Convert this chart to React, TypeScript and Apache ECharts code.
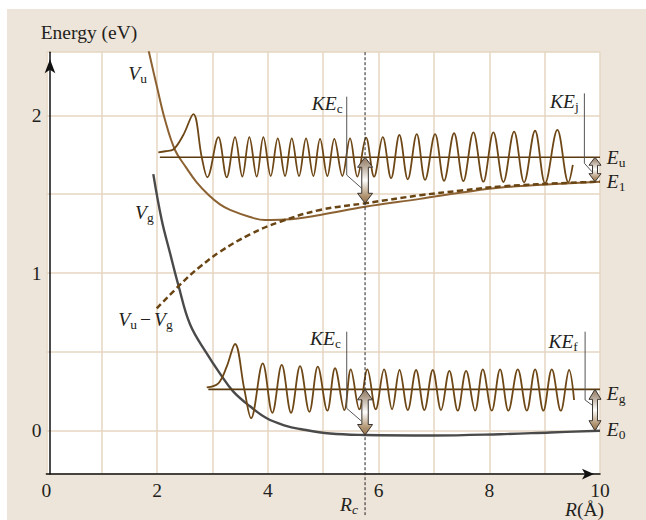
import React, { useEffect, useRef } from 'react';
import * as echarts from 'echarts';

// Axis ranges: internuclear distance R (Å) and energy (eV)
const X_MIN = 0;
const X_MAX = 10;
const Y_MIN = -0.275;
const Y_MAX = 2.4;
const X_LABELS = [0, 2, 4, 6, 8, 10];
const Y_LABELS = [0, 1, 2];

// Crossing distance and energy levels
const R_C = 5.756;
const E_U = 1.734;
const E_1 = 1.579;
const E_G = 0.2625;
const E_0 = 0;
const DIFF_AT_RC = 1.442;
const VG_AT_RC = -0.027;
const R_RIGHT = 9.91;

// Upper potential V_u
const vuCurve = [
  [1.84, 2.42], [1.998, 2.179], [2.143, 1.97], [2.323, 1.78], [2.522, 1.67], [2.715, 1.575],
  [2.93, 1.495], [3.136, 1.435], [3.317, 1.4], [3.678, 1.355], [3.949, 1.336], [4.311, 1.339],
  [4.944, 1.368], [5.757, 1.42], [6.75, 1.47], [7.5, 1.51], [8.255, 1.543], [9.46, 1.569], [10, 1.579],
];

// Ground potential V_g
const vgCurve = [
  [1.931, 1.627], [2.083, 1.336], [2.233, 1.127], [2.383, 0.924], [2.594, 0.675], [2.896, 0.49],
  [3.136, 0.362], [3.377, 0.248], [3.678, 0.155], [3.98, 0.079], [4.311, 0.033], [4.582, 0.011],
  [5.124, -0.018], [5.757, -0.027], [6.99, -0.03], [8.195, -0.022], [9.098, -0.011], [10, 0],
];

// Difference potential V_u - V_g
const diffCurve = [
  [1.993, 0.776], [2.5, 0.955], [2.775, 1.04], [3.136, 1.135], [3.678, 1.245], [4.22, 1.325],
  [4.944, 1.4], [5.757, 1.442], [6.75, 1.493], [7.5, 1.523], [8.255, 1.55], [9.46, 1.572], [10, 1.579],
];

// Vibrational wavefunction on the upper level (extrema)
const upperWave = [
  [2.022, 1.765], [2.15, 1.772], [2.293, 1.783], [2.473, 1.875], [2.654, 2.008], [2.806, 1.734],
  [2.907, 1.607], [3.106, 1.861], [3.257, 1.607], [3.407, 1.861], [3.539, 1.611], [3.666, 1.861],
  [3.799, 1.611], [3.919, 1.861], [4.052, 1.615], [4.179, 1.854], [4.311, 1.615], [4.432, 1.854],
  [4.564, 1.615], [4.69, 1.854], [4.822, 1.615], [4.943, 1.85], [5.075, 1.615], [5.201, 1.85],
  [5.346, 1.615], [5.485, 1.854], [5.617, 1.611], [5.774, 1.858], [5.919, 1.611], [6.076, 1.861],
  [6.226, 1.601], [6.376, 1.875], [6.528, 1.594], [6.69, 1.88], [6.84, 1.59], [7.021, 1.88],
  [7.183, 1.585], [7.364, 1.886], [7.532, 1.583], [7.713, 1.892], [7.893, 1.579], [8.074, 1.892],
  [8.255, 1.577], [8.448, 1.896], [8.629, 1.575], [8.827, 1.902], [9.008, 1.569], [9.23, 1.907],
  [9.429, 1.575], [9.509, 1.685],
];

// Vibrational wavefunction on the lower level (extrema)
const lowerWave = [
  [2.896, 0.275], [3.106, 0.301], [3.257, 0.406], [3.407, 0.55], [3.575, 0.263], [3.697, 0.079],
  [3.908, 0.427], [4.081, 0.114], [4.251, 0.417], [4.419, 0.114], [4.582, 0.41], [4.75, 0.12],
  [4.902, 0.406], [5.075, 0.127], [5.214, 0.396], [5.382, 0.131], [5.498, 0.389], [5.653, 0.136],
  [5.798, 0.389], [5.949, 0.136], [6.099, 0.389], [6.244, 0.136], [6.379, 0.385], [6.528, 0.131],
  [6.678, 0.385], [6.827, 0.131], [6.979, 0.385], [7.129, 0.131], [7.279, 0.38], [7.431, 0.127],
  [7.581, 0.38], [7.744, 0.127], [7.883, 0.389], [8.045, 0.127], [8.195, 0.389], [8.345, 0.127],
  [8.515, 0.389], [8.678, 0.127], [8.828, 0.389], [8.977, 0.127], [9.129, 0.389], [9.292, 0.127],
  [9.442, 0.385], [9.532, 0.195],
];

const upperLevel = [[2.05, E_U], [X_MAX, E_U]];
const lowerLevel = [[2.925, E_G], [X_MAX, E_G]];

// Kinetic-energy arrows: [R, from, to]
const kineticArrows = [
  [R_C, E_U, DIFF_AT_RC],
  [R_RIGHT, E_U, E_1],
  [R_C, E_G, VG_AT_RC],
  [R_RIGHT, E_G, E_0],
];

const INK = '#231f20';
const PAPER = '#eee5da';
const GRIDLINE = '#e6d6c2';
const FONT = 'Liberation Serif';
const MAIN = 19.5;
const SUB = 13.5;

// arrow geometry per arrow: head half-width, head height, shaft half-width
const ARROW_SIZES = [
  [7.5, 10, 3.3],
  [6, 8, 2.5],
  [7.5, 10.5, 3.2],
  [6, 10, 2.5],
];

// KE leader lines, drawn in data space
const leaderLines = [
  [[5.425, 2.118], [5.425, 1.621], [5.696, 1.537]],
  [[9.718, 2.139], [9.718, 1.696], [9.855, 1.642]],
  [[5.425, 0.628], [5.425, 0.142], [5.685, 0.063]],
  [[9.731, 0.628], [9.731, 0.195], [9.855, 0.163]],
];

const mathLabels = [
  { text: '{i|V}{s|u}', at: [1.48, 2.269] },
  { text: '{i|V}{s|g}', at: [1.601, 1.387] },
  { text: '{i|V}{s|u}{m|\u2212}{i|V}{s|g}', at: [1.299, 0.704] },
  { text: '{i|KE}{s|c}', at: [4.793, 2.075] },
  { text: '{i|KE}{s|j}', at: [9.098, 2.089] },
  { text: '{i|KE}{s|c}', at: [4.762, 0.588] },
  { text: '{i|KE}{s|f}', at: [9.068, 0.569] },
  { text: '{i|E}{s|u}', at: [10.123, E_U] },
  { text: '{i|E}{s|1}', at: [10.123, E_1] },
  { text: '{i|E}{s|g}', at: [10.123, E_G - 0.023] },
  { text: '{i|E}{s|0}', at: [10.123, E_0 + 0.007] },
  { text: '{i|R}{si|c}', at: [5.304, -0.467] },
  { text: '{i|R}{r|(\u00c5)}', at: [9.369, -0.497] },
];

const rich = {
  i: { fontFamily: FONT, fontStyle: 'italic', fontSize: MAIN, padding: [0, 0, 2, 0], verticalAlign: 'top', fill: INK },
  r: { fontFamily: FONT, fontSize: MAIN, padding: [0, 0, 2, 0], verticalAlign: 'top', fill: INK },
  m: { fontFamily: FONT, fontSize: MAIN, padding: [0, 3, 2, 3], verticalAlign: 'top', fill: INK },
  s: { fontFamily: FONT, fontSize: SUB, verticalAlign: 'bottom', fill: INK },
  si: { fontFamily: FONT, fontStyle: 'italic', fontSize: SUB, verticalAlign: 'bottom', fill: INK },
};

function line(data: number[][], color: string, width: number, extra: any = {}) {
  return {
    type: 'line',
    data,
    symbol: 'none',
    showSymbol: false,
    silent: true,
    smooth: 0.4,
    ...extra,
    lineStyle: { color, width, ...(extra.lineStyle || {}) },
  };
}

export default function App() {
  const ref = useRef<HTMLDivElement>(null);

  useEffect(() => {
    const chart = echarts.init(ref.current as HTMLDivElement, null, { renderer: 'svg' });

    const arrowGradient = () =>
      new echarts.graphic.LinearGradient(0, 0, 0, 1, [
        { offset: 0, color: '#8d7660' },
        { offset: 0.18, color: '#b3a291' },
        { offset: 0.5, color: '#ffffff' },
        { offset: 0.82, color: '#b59a78' },
        { offset: 1, color: '#8e6c45' },
      ]);

    const series: any[] = [
      line(vgCurve, '#4a4a4a', 2.4),
      line(vuCurve, '#8c6232', 2),
      line(diffCurve, '#6a4514', 2.5, { lineStyle: { type: [6, 3.5] } }),
      line(upperLevel, '#5a3a0f', 1.6, { smooth: false }),
      line(lowerLevel, '#5a3a0f', 1.6, { smooth: false }),
      line(upperWave, '#6e4716', 1.8, { smooth: 0.36 }),
      line(lowerWave, '#6e4716', 1.8, { smooth: 0.36 }),
      line([[R_C, Y_MAX], [R_C, -0.535]], '#222222', 1, { smooth: false, clip: false, lineStyle: { type: [3, 2] } }),
      ...leaderLines.map((d) => line(d, '#555555', 1, { smooth: false })),
      {
        type: 'custom',
        data: kineticArrows,
        encode: { x: 0, y: [1, 2] },
        silent: true,
        z: 5,
        renderItem: (params: any, api: any) => {
          const [hw, hh, sw] = ARROW_SIZES[params.dataIndex];
          const top = api.coord([api.value(0), api.value(1)]);
          const bot = api.coord([api.value(0), api.value(2)]);
          const cx = top[0];
          const ty = top[1];
          const by = bot[1];
          return {
            type: 'polygon',
            shape: {
              points: [
                [cx, ty], [cx + hw, ty + hh], [cx + sw, ty + hh], [cx + sw, by - hh], [cx + hw, by - hh],
                [cx, by], [cx - hw, by - hh], [cx - sw, by - hh], [cx - sw, ty + hh], [cx - hw, ty + hh],
              ],
            },
            style: { fill: arrowGradient(), stroke: '#3b3530', lineWidth: 1 },
          };
        },
      },
    ];

    chart.setOption({
      animation: false,
      grid: {
        left: 46.4,
        right: 46,
        top: 52.2,
        bottom: 45.9,
        show: true,
        backgroundColor: '#ffffff',
        borderWidth: 0,
        outerBoundsMode: 'none',
      },
      xAxis: {
        type: 'value',
        min: X_MIN,
        max: X_MAX,
        interval: 1,
        axisLine: {
          show: true,
          onZero: false,
          symbol: ['none', 'arrow'],
          symbolSize: [8, 12],
          symbolOffset: [0, -6],
          lineStyle: { color: '#111', width: 1.5 },
        },
        axisTick: { show: false },
        axisLabel: {
          color: INK,
          fontFamily: FONT,
          fontSize: MAIN,
          margin: 6,
          formatter: (v: number) => (X_LABELS.includes(v) ? String(v) : ''),
        },
        splitLine: { show: true, lineStyle: { color: GRIDLINE, width: 1.5 } },
      },
      yAxis: {
        type: 'value',
        min: Y_MIN,
        max: Y_MAX,
        splitNumber: 5,
        offset: -3.6,
        axisLine: {
          show: true,
          onZero: false,
          symbol: ['none', 'arrow'],
          symbolSize: [8, 14],
          symbolOffset: [0, -7],
          lineStyle: { color: '#111', width: 1.5 },
        },
        axisTick: { show: false },
        axisLabel: {
          color: INK,
          fontFamily: FONT,
          fontSize: MAIN,
          margin: 8.5,
          showMinLabel: false,
          showMaxLabel: false,
          formatter: (v: number) => (Y_LABELS.some((t) => Math.abs(t - v) < 1e-9) ? String(Math.round(v)) : ''),
        },
        splitLine: { show: true, lineStyle: { color: GRIDLINE, width: 1.5 } },
      },
      series,
    });

    const pt = (p: number[]) => chart.convertToPixel({ gridIndex: 0 }, p) as number[];
    const corner = pt([X_MIN, Y_MAX]);
    const elements: any[] = [
      {
        type: 'text',
        x: corner[0] - 5.7,
        y: corner[1] - 19.5,
        z: 20,
        silent: true,
        style: { text: 'Energy (eV)', fontFamily: FONT, fontSize: MAIN, fill: INK, align: 'left', verticalAlign: 'middle' },
      },
      ...mathLabels.map((l) => {
        const p = pt(l.at);
        return {
          type: 'text',
          x: p[0],
          y: p[1] - MAIN / 2,
          z: 20,
          silent: true,
          style: { text: l.text, rich, align: 'left', verticalAlign: 'top' },
        };
      }),
    ];
    chart.setOption({ graphic: { elements } });

    return () => chart.dispose();
  }, []);

  return (
    <div style={{ position: 'fixed', left: 0, top: 0, width: 646, height: 520, background: '#ffffff', overflow: 'hidden' }}>
      <div style={{ position: 'absolute', left: 7, top: 9, right: 0, bottom: 0, background: PAPER }} />
      <div ref={ref} style={{ position: 'absolute', left: 0, top: 0, width: 646, height: 520 }} />
    </div>
  );
}
